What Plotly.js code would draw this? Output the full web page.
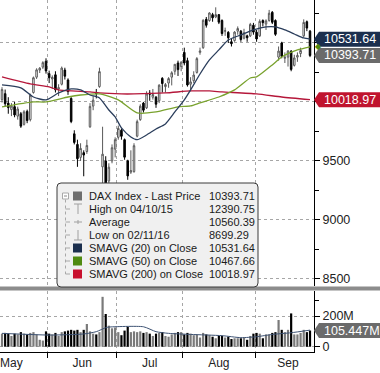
<!DOCTYPE html>
<html>
<head>
<meta charset="utf-8">
<script src="https://cdn.plot.ly/plotly-3.0.1.min.js"></script>
<style>html,body{margin:0;padding:0;background:#fff;}#chart{width:380px;height:373px;}</style>
</head>
<body>
<div id="chart"></div>
<script>
// ---------- DATA ----------
const dates = [
'2016-05-11','2016-05-12','2016-05-13','2016-05-16','2016-05-17','2016-05-18','2016-05-19','2016-05-20','2016-05-23','2016-05-24','2016-05-25','2016-05-26','2016-05-27','2016-05-30','2016-05-31',
'2016-06-01','2016-06-02','2016-06-03','2016-06-06','2016-06-07','2016-06-08','2016-06-09','2016-06-10','2016-06-13','2016-06-14','2016-06-15','2016-06-16','2016-06-17','2016-06-20','2016-06-21','2016-06-22','2016-06-23','2016-06-24','2016-06-27','2016-06-28','2016-06-29','2016-06-30',
'2016-07-01','2016-07-04','2016-07-05','2016-07-06','2016-07-07','2016-07-08','2016-07-11','2016-07-12','2016-07-13','2016-07-14','2016-07-15','2016-07-18','2016-07-19','2016-07-20','2016-07-21','2016-07-22','2016-07-25','2016-07-26','2016-07-27','2016-07-28','2016-07-29',
'2016-08-01','2016-08-02','2016-08-03','2016-08-04','2016-08-05','2016-08-08','2016-08-09','2016-08-10','2016-08-11','2016-08-12','2016-08-15','2016-08-16','2016-08-17','2016-08-18','2016-08-19','2016-08-22','2016-08-23','2016-08-24','2016-08-25','2016-08-26','2016-08-29','2016-08-30','2016-08-31',
'2016-09-01','2016-09-02','2016-09-05','2016-09-06','2016-09-07','2016-09-08','2016-09-09','2016-09-12','2016-09-13','2016-09-14','2016-09-15','2016-09-16','2016-09-19','2016-09-20','2016-09-21','2016-09-22','2016-09-23','2016-09-26'];

const opens = [
10020,10070,9990,9935,9960,9880,9900,9810,9920,9850,10080,10210,10270,10295,10345,
10240,10195,10230,10110,10150,10270,10186,10030,9730,9640,9530,9570,9580,9790,9965,10080,10130,9450,9500,9330,9500,9600,
9700,9760,9680,9500,9405,9410,9710,9850,9990,9950,10075,10040,10040,10010,10200,10130,10160,10210,10260,10330,10300,
10420,10350,10150,10180,10250,10420,10460,10700,10690,10740,10720,10740,10690,10600,10590,10510,10520,10600,10600,10540,10560,10560,10650,
10590,10560,10690,10660,10690,10760,10690,10380,10500,10370,10380,10430,10310,10380,10410,10560,10680,10600];
const highs = [
10125,10105,10040,9990,10000,9960,9915,9930,9935,10070,10215,10285,10295,10345,10370,
10265,10225,10260,10150,10300,10290,10200,10040,9760,9680,9650,9590,9680,9990,10050,10110,10290,9790,9540,9480,9640,9700,
9800,9775,9690,9510,9590,9650,9850,9980,10000,10090,10100,10110,10050,10150,10210,10160,10210,10260,10320,10350,10345,
10460,10375,10210,10260,10380,10460,10700,10720,10760,10755,10802,10745,10700,10630,10600,10540,10600,10640,10610,10620,10570,10670,10670,
10610,10700,10700,10700,10780,10770,10700,10470,10510,10420,10440,10440,10400,10420,10460,10700,10690,10610];
const lows = [
9995,9965,9900,9880,9870,9850,9780,9800,9820,9835,10070,10195,10245,10280,10240,
10160,10110,10080,10050,10140,10190,10060,9820,9640,9450,9500,9370,9560,9780,9930,10030,10120,9220,9215,9300,9480,9530,
9680,9680,9510,9340,9390,9400,9700,9840,9910,9940,10010,10020,9950,9990,10080,10080,10120,10140,10230,10220,10260,
10310,10130,10090,10160,10240,10400,10450,10630,10680,10680,10710,10660,10560,10560,10500,10470,10510,10570,10510,10530,10510,10550,10570,
10510,10550,10640,10610,10680,10660,10560,10350,10370,10330,10300,10260,10300,10340,10380,10550,10600,10380];
const closes = [
10105,9985,9952,9965,9890,9940,9795,9916,9842,10057,10205,10272,10286,10333,10263,
10205,10208,10103,10121,10287,10218,10088,9834,9657,9519,9606,9550,9631,9962,10015,10071,10257,9557,9268,9447,9612,9680,
9776,9709,9532,9373,9418,9629,9833,9964,9930,10068,10066,10063,9981,10142,10156,10147,10198,10247,10319,10274,10337,
10330,10144,10170,10228,10367,10432,10692,10650,10754,10713,10740,10676,10580,10603,10544,10494,10592,10622,10529,10587,10544,10657,10592,
10534,10683,10672,10687,10752,10675,10573,10431,10386,10379,10431,10276,10373,10394,10436,10674,10626,10393.71];
// volume, millions
const volumes = [
85,90,85,70,85,80,95,85,80,90,95,80,45,40,100,
85,80,90,70,95,100,105,110,105,110,95,110,148,100,85,80,95,325,213,137,120,125,
95,75,105,130,95,100,95,100,90,95,85,70,85,90,95,70,65,80,90,95,95,
80,90,85,75,80,60,90,80,75,65,55,70,70,60,65,50,55,55,55,60,45,70,85,
90,85,55,80,80,90,95,174,110,95,110,217,80,80,90,110,95,105.447];

const sma20Dates = ['2016-05-11','2016-05-19','2016-05-25','2016-05-31','2016-06-06','2016-06-10','2016-06-15','2016-06-20','2016-06-23','2016-06-28','2016-06-30','2016-07-04','2016-07-07','2016-07-11','2016-07-14','2016-07-19','2016-07-22','2016-07-27','2016-08-01','2016-08-03','2016-08-08','2016-08-11','2016-08-16','2016-08-19','2016-08-25','2016-08-31','2016-09-06','2016-09-09','2016-09-14','2016-09-19','2016-09-22','2016-09-26'];
const sma20 = [10144,10119,10042,10017,10076,10110,10102,10059,10034,9932,9873,9780,9703,9680,9720,9771,9814,9915,10017,10102,10237,10356,10441,10525,10568,10610,10636,10636,10610,10576,10542,10531.64];

const sma50Dates = ['2016-05-11','2016-05-25','2016-05-31','2016-06-09','2016-06-15','2016-06-23','2016-07-01','2016-07-11','2016-07-19','2016-07-28','2016-08-03','2016-08-08','2016-08-16','2016-08-23','2016-08-30','2016-09-01','2016-09-08','2016-09-13','2016-09-20','2016-09-26'];
const sma50 = [9958,10000,10000,10042,10059,10068,10017,9907,9915,9958,9966,9992,10042,10102,10203,10212,10314,10381,10441,10467.66];

const sma200Dates = ['2016-05-11','2016-05-24','2016-06-01','2016-06-06','2016-06-20','2016-06-23','2016-07-04','2016-07-08','2016-07-22','2016-08-03','2016-08-11','2016-08-17','2016-09-01','2016-09-13','2016-09-26'];
const sma200 = [10212,10153,10127,10102,10085,10076,10068,10068,10076,10093,10093,10085,10068,10042,10018.97];

const volMaDates = ['2016-05-11','2016-06-01','2016-06-16','2016-06-22','2016-06-27','2016-06-28','2016-07-13','2016-07-19','2016-07-25','2016-08-03','2016-08-17','2016-08-25','2016-09-01','2016-09-08','2016-09-16','2016-09-26'];
const volMa = [87,76,83,98,124,128,130,98,87,80,72,59,65,80,91,108];

const legendLabels = ['DAX Index - Last Price','High on 04/10/15','Average','Low on 02/11/16','SMAVG (20) on Close','SMAVG (50) on Close','SMAVG (200) on Close'];
const legendValues = ['10393.71','12390.75','10560.39','8699.29','10531.64','10467.66','10018.97'];
const monthLabels = ['May', 'Jun', 'Jul', 'Aug', 'Sep'];
const monthStarts = ['2016-06-01', '2016-07-01', '2016-08-01', '2016-09-01'];
const priceTicks = [8500, 9000, 9500, 10000, 10500];
const priceTickText = ['8500', '9000', '9500', '', ''];
const volTicks = [0, 200];
const volTickText = ['0', '200M'];

// ---------- LAYOUT GEOMETRY ----------
const W = 380, H = 373;
const M = {l: 0, r: 66, t: 0, b: 21};
const PW = W - M.l - M.r, PH = H - M.t - M.b;   // 314 x 352
const priceDomain = [0.1875, 1];
const priceRange = [8440, 10864];
const volDomain = [0, 0.1733];
const volRange = [-34.5, 363];
const FONT = 'Liberation Sans, Arial, sans-serif';
const C_NAVY = '#1b2f4e', C_GREEN = '#79a22e', C_RED = '#b5173a', C_GREY = '#6b6b6b';
// label positions (centre of each month's trading-day span)
const monthLabelPos = ['2016-05-16 12:00', '2016-06-16 00:00', '2016-07-15 12:00', '2016-08-16 12:00', '2016-09-15 12:00'];

const X = px => px / PW;
const Y = py => (PH - py) / PH;
function valPaper(v, dom, rng) { return dom[0] + (v - rng[0]) / (rng[1] - rng[0]) * (dom[1] - dom[0]); }
function valPx(v, dom, rng) { return PH * (1 - valPaper(v, dom, rng)); }
const noon = d => d + ' 12:00';

// ---------- TRACES ----------
const xs = dates.map(noon);
const traces = [
  {type: 'candlestick', x: xs, open: opens, high: highs, low: lows, close: closes,
   xaxis: 'x', yaxis: 'y', hoverinfo: 'skip', showlegend: false,
   increasing: {line: {color: '#5a5a5a', width: 1}, fillcolor: '#ffffff'},
   decreasing: {line: {color: '#000000', width: 1}, fillcolor: '#000000'}},
  {type: 'scatter', mode: 'lines', x: sma200Dates.map(noon), y: sma200, xaxis: 'x', yaxis: 'y',
   line: {color: C_RED, width: 1.3, shape: 'spline', smoothing: 0.6}, hoverinfo: 'skip', showlegend: false},
  {type: 'scatter', mode: 'lines', x: sma50Dates.map(noon), y: sma50, xaxis: 'x', yaxis: 'y',
   line: {color: C_GREEN, width: 1.3, shape: 'spline', smoothing: 0.6}, hoverinfo: 'skip', showlegend: false},
  {type: 'scatter', mode: 'lines', x: sma20Dates.map(noon), y: sma20, xaxis: 'x', yaxis: 'y',
   line: {color: '#2b3e5c', width: 1.3, shape: 'spline', smoothing: 0.6}, hoverinfo: 'skip', showlegend: false},
  {type: 'bar', x: xs, y: volumes, xaxis: 'x', yaxis: 'y2',
   marker: {color: closes.map((c, i) => c >= opens[i] ? '#7a7a7a' : '#000000'), line: {width: 0}},
   hoverinfo: 'skip', showlegend: false},
  {type: 'scatter', mode: 'lines', x: volMaDates.map(noon), y: volMa, xaxis: 'x', yaxis: 'y2',
   line: {color: '#3d5273', width: 1, shape: 'spline', smoothing: 0.6}, hoverinfo: 'skip', showlegend: false}
];

// ---------- SHAPES & ANNOTATIONS ----------
const shapes = [];
const annotations = [];

// separator band between panels
shapes.push({type: 'rect', xref: 'paper', yref: 'paper', x0: X(0), x1: X(W), y0: Y(290.5), y1: Y(286.5),
  fillcolor: '#8c8c8c', line: {width: 0}, layer: 'above'});

// value tags on right axis
function tag(v, dom, rng, color, text) {
  const cy = valPx(v, dom, rng);
  const h = 7.5;
  const p = 'M ' + X(PW) + ',' + Y(cy) + ' L ' + X(PW + 5) + ',' + Y(cy - h) + ' L ' + X(W) + ',' + Y(cy - h) +
            ' L ' + X(W) + ',' + Y(cy + h) + ' L ' + X(PW + 5) + ',' + Y(cy + h) + ' Z';
  shapes.push({type: 'path', xref: 'paper', yref: 'paper', path: p, fillcolor: color, line: {width: 0}, layer: 'above'});
  annotations.push({xref: 'paper', yref: 'paper', x: X(PW + 8), y: Y(cy), xanchor: 'left', yanchor: 'middle',
    text: text, showarrow: false, font: {family: FONT, size: 12.5, color: '#ffffff'}});
}
tag(sma20[sma20.length - 1], priceDomain, priceRange, C_NAVY, legendValues[4]);
tag(closes[closes.length - 1], priceDomain, priceRange, C_GREY, legendValues[0]);
tag(sma200[sma200.length - 1], priceDomain, priceRange, '#c0142e', legendValues[6]);
tag(volumes[volumes.length - 1], volDomain, volRange, C_GREY, volumes[volumes.length - 1].toFixed(3) + 'M');
// collapsed SMA50 marker
annotations.push({xref: 'paper', yref: 'paper', x: X(PW + 4), y: valPaper(sma50[sma50.length - 1], priceDomain, priceRange),
  xanchor: 'center', yanchor: 'middle', text: '\u25C6', showarrow: false, font: {family: 'DejaVu Sans', size: 8, color: '#4f8a10'}});

// legend box
(function () {
  const x0 = 57, x1 = 258, y0 = 183, y1 = 287, r = 4;
  const P = (a, b) => X(a) + ',' + Y(b);
  const path = 'M ' + P(x0 + r, y0) + ' L ' + P(x1 - r, y0) + ' Q ' + P(x1, y0) + ' ' + P(x1, y0 + r) +
    ' L ' + P(x1, y1 - r) + ' Q ' + P(x1, y1) + ' ' + P(x1 - r, y1) +
    ' L ' + P(x0 + r, y1) + ' Q ' + P(x0, y1) + ' ' + P(x0, y1 - r) +
    ' L ' + P(x0, y0 + r) + ' Q ' + P(x0, y0) + ' ' + P(x0 + r, y0) + ' Z';
  shapes.push({type: 'path', xref: 'paper', yref: 'paper', path: path, fillcolor: '#f0f0f0',
    line: {color: '#3a3a3a', width: 1}, layer: 'above'});
  const rows = [196, 209, 222, 235, 248, 261, 274];
  const treeC = '#a8a8a8';
  shapes.push({type: 'rect', xref: 'paper', yref: 'paper', x0: X(62.5), x1: X(68.5), y0: Y(199), y1: Y(193),
    fillcolor: '#ffffff', line: {color: treeC, width: 1}, layer: 'above'});
  shapes.push({type: 'line', xref: 'paper', yref: 'paper', x0: X(64), x1: X(67), y0: Y(196), y1: Y(196),
    line: {color: '#888', width: 1}, layer: 'above'});
  shapes.push({type: 'line', xref: 'paper', yref: 'paper', x0: X(65.5), x1: X(65.5), y0: Y(199.5), y1: Y(rows[6]),
    line: {color: treeC, width: 1, dash: 'dot'}, layer: 'above'});
  for (let i = 1; i < rows.length; i++) {
    shapes.push({type: 'line', xref: 'paper', yref: 'paper', x0: X(65.5), x1: X(70), y0: Y(rows[i]), y1: Y(rows[i]),
      line: {color: treeC, width: 1}, layer: 'above'});
  }
  const sq = [[0, '#6e6e6e'], [4, C_NAVY], [5, '#4f8a10'], [6, '#c8102e']];
  sq.forEach(([i, c]) => shapes.push({type: 'rect', xref: 'paper', yref: 'paper', x0: X(73), x1: X(82),
    y0: Y(rows[i] + 4.5), y1: Y(rows[i] - 4.5), fillcolor: c, line: {width: 0}, layer: 'above'}));
  const gC = '#a0a0a0';
  const ln = (ax, ay, bx, by) => shapes.push({type: 'line', xref: 'paper', yref: 'paper', x0: X(ax), x1: X(bx),
    y0: Y(ay), y1: Y(by), line: {color: gC, width: 1}, layer: 'above'});
  ln(74, rows[1] - 5, 82, rows[1] - 5); ln(78, rows[1] - 5, 78, rows[1] + 5);
  ln(74, rows[2], 82, rows[2]); ln(78, rows[2] - 2, 78, rows[2] + 2);
  ln(78, rows[3] - 5, 78, rows[3] + 5); ln(74, rows[3] + 5, 82, rows[3] + 5);
  legendLabels.forEach((t, i) => {
    annotations.push({xref: 'paper', yref: 'paper', x: X(87), y: Y(rows[i]), xanchor: 'left', yanchor: 'middle',
      text: t, showarrow: false, font: {family: FONT, size: 11, color: '#1a1a1a'}});
    annotations.push({xref: 'paper', yref: 'paper', x: X(206.5), y: Y(rows[i]), xanchor: 'left', yanchor: 'middle',
      text: legendValues[i], showarrow: false, font: {family: FONT, size: 11, color: '#1a1a1a'}});
  });
})();

// ---------- AXES ----------
const gridStyle = {showgrid: true, gridcolor: '#a6a6a6', gridwidth: 1, griddash: '3px,3px'};
const layout = {
  width: W, height: H, margin: M,
  paper_bgcolor: '#ffffff', plot_bgcolor: '#ffffff',
  showlegend: false, bargap: 0.3, dragmode: false,
  font: {family: FONT, size: 12, color: '#222'},
  xaxis: {
    type: 'date', anchor: 'y2', domain: [0, 1],
    range: ['2016-05-10 20:40', '2016-09-27 18:30'],
    rangebreaks: [{bounds: ['sat', 'mon']}],
    rangeslider: {visible: false},
    showline: true, linecolor: '#000', linewidth: 1, mirror: false,
    tickmode: 'array', tickvals: monthLabelPos, ticktext: monthLabels, ticks: '',
    showgrid: false,
    minor: {tickmode: 'array', tickvals: monthStarts, ticks: 'outside', ticklen: 5, tickcolor: '#000', tickwidth: 1,
            showgrid: true, gridcolor: '#a6a6a6', gridwidth: 1, griddash: '3px,3px'},
    tickfont: {family: FONT, size: 12, color: '#222'}, zeroline: false, fixedrange: true
  },
  yaxis: Object.assign({
    domain: priceDomain, range: priceRange, side: 'right', anchor: 'x',
    showline: true, linecolor: '#000', linewidth: 1,
    tickmode: 'array', tickvals: priceTicks, ticktext: priceTickText,
    ticks: 'outside', ticklen: 5, tickcolor: '#000', tickwidth: 1,
    minor: {tickmode: 'array', tickvals: [8750, 9250, 9750, 10250, 10750], ticks: 'outside', ticklen: 4, tickcolor: '#000', showgrid: false},
    tickfont: {family: FONT, size: 12.5, color: '#222'}, zeroline: false, fixedrange: true
  }, gridStyle),
  yaxis2: Object.assign({
    domain: volDomain, range: volRange, side: 'right', anchor: 'x',
    showline: true, linecolor: '#000', linewidth: 1,
    tickmode: 'array', tickvals: volTicks, ticktext: volTickText,
    ticks: 'outside', ticklen: 5, tickcolor: '#000', tickwidth: 1,
    minor: {tickmode: 'array', tickvals: [100, 300], ticks: 'outside', ticklen: 4, tickcolor: '#000', showgrid: false},
    tickfont: {family: FONT, size: 12.5, color: '#222'}, zeroline: false, fixedrange: true
  }, gridStyle),
  shapes: shapes,
  annotations: annotations
};

Plotly.newPlot('chart', traces, layout, {displayModeBar: false, staticPlot: true});
</script>
</body>
</html>
